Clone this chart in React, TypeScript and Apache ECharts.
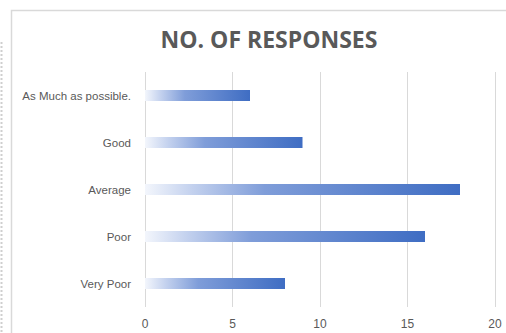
import React, { useEffect, useRef } from "react";
import * as echarts from "echarts";

const categories = ["Very Poor", "Poor", "Average", "Good", "As Much as possible."];
const responses = [8, 16, 18, 9, 6];
const xTicks = { min: 0, max: 20, interval: 5 };
const titleText = "NO. OF RESPONSES";

const FONT = "'Liberation Sans', Arial, sans-serif";
const TITLE_FONT = "'Open Sans', 'Liberation Sans', sans-serif";
const TEXT_COLOR = "#595959";
const GRID_COLOR = "#d9d9d9";

export default function App() {
  const ref = useRef<HTMLDivElement>(null);

  useEffect(() => {
    if (!ref.current) return;
    const chart = echarts.init(ref.current, null, { renderer: "svg" });

    const barFill = new echarts.graphic.LinearGradient(0, 0, 1, 0, [
      { offset: 0, color: "#f3f6fc" },
      { offset: 0.15, color: "#c3d1ee" },
      { offset: 0.38, color: "#7f9dd9" },
      { offset: 1, color: "#3f6dc3" },
    ]);

    chart.setOption({
      animation: false,
      backgroundColor: "#ffffff",
      title: {
        text: titleText,
        left: 264,
        top: 22,
        textAlign: "center",
        textStyle: {
          fontFamily: TITLE_FONT,
          fontSize: 23,
          fontWeight: "bold",
          color: TEXT_COLOR,
        },
      },
      grid: { left: 145, right: 11, top: 72, bottom: 26, containLabel: false },
      xAxis: {
        type: "value",
        min: xTicks.min,
        max: xTicks.max,
        interval: xTicks.interval,
        axisLine: { show: false },
        axisTick: { show: false },
        axisLabel: {
          color: TEXT_COLOR,
          fontFamily: FONT,
          fontSize: 12,
          margin: 11,
        },
        splitLine: { show: true, lineStyle: { color: GRID_COLOR, width: 1 } },
      },
      yAxis: {
        type: "category",
        data: categories,
        axisLine: { show: false },
        axisTick: { show: false },
        axisLabel: {
          color: TEXT_COLOR,
          fontFamily: FONT,
          fontSize: 11.5,
          margin: 14,
        },
        splitLine: { show: false },
      },
      series: [
        {
          type: "bar",
          data: responses,
          barWidth: 11,
          itemStyle: { color: barFill },
        },
      ],
      graphic: [
        {
          type: "rect",
          shape: { x: 11.5, y: 10.5, width: 520, height: 340 },
          style: { fill: "none", stroke: "#d9d9d9", lineWidth: 1.5 },
          silent: true,
          z: -1,
        },
        {
          type: "line",
          shape: { x1: 1.5, y1: 42, x2: 1.5, y2: 333 },
          style: { stroke: "#cfcfcf", lineWidth: 2, lineDash: [2, 2] },
          silent: true,
        },
      ],
    });

    return () => chart.dispose();
  }, []);

  return (
    <div
      ref={ref}
      style={{ position: "fixed", left: 0, top: 0, width: 506, height: 333 }}
    />
  );
}
